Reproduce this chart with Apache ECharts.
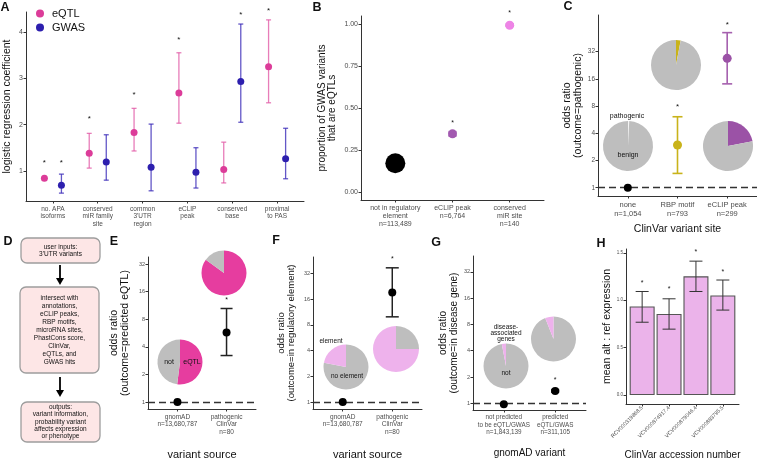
<!DOCTYPE html>
<html><head><meta charset="utf-8">
<script src="https://cdn.jsdelivr.net/npm/echarts@6/dist/echarts.min.js"></script>
<style>html,body{margin:0;padding:0;background:#fff}#c{width:757px;height:461px}</style>
</head><body><div id="c"></div>
<script>
// ---------- DATA ----------
// Panel A
const A_cats = ['no. APA\nisoforms', 'conserved\nmiR family\nsite', 'common\n3\'UTR\nregion', 'eCLIP\npeak', 'conserved\nbase', 'proximal\nto PAS'];
const A_yticks = [1, 2, 3, 4];
const A_eqtl = [0.84, 1.38, 1.83, 2.68, 1.03, 3.25];
const A_eqtl_lo = [0.80, 1.06, 1.43, 2.03, 0.74, 2.47];
const A_eqtl_hi = [0.88, 1.81, 2.35, 3.55, 1.62, 4.26];
const A_gwas = [0.69, 1.19, 1.08, 0.97, 2.93, 1.26];
const A_gwas_lo = [0.52, 0.80, 0.57, 0.63, 2.05, 0.83];
const A_gwas_hi = [0.93, 1.78, 2.01, 1.50, 4.17, 1.92];
const A_eqtl_star = [1.22, 2.16, 2.68, 3.88, null, 4.50];
const A_gwas_star = [1.22, null, null, null, 4.42, null];
// Panel B
const B_cats = ['not in regulatory\nelement\nn=113,489', 'eCLIP peak\nn=6,764', 'conserved\nmiR site\nn=140'];
const B_yticks = [0, 0.25, 0.5, 0.75, 1.0];
const B_vals = [0.173, 0.348, 0.995];
const B_lo = [null, 0.336, 0.990];
const B_hi = [null, 0.360, 1.000];
const B_star = [null, 0.42, 1.076];
// Panel C
const C_cats = ['none\nn=1,054', 'RBP motif\nn=793', 'eCLIP peak\nn=299'];
const C_yticks = [1, 2, 4, 8, 16, 32];
const C_vals = [1, 2.97, 27];
const C_lo = [null, 1.44, 14.1];
const C_hi = [null, 6.1, 52];
const C_star = [null, 8.2, 66];
const C_pie_none = [0.8, 99.2];   // pathogenic, benign
const C_pie_rbp = [3, 97];
const C_pie_eclip = [22, 78];
// Panel D (flowchart text)
const D_box1 = 'user inputs:\n3\'UTR variants';
const D_box2 = 'intersect with\nannotations,\neCLIP peaks,\nRBP motifs,\nmicroRNA sites,\nPhastCons score,\nClinVar,\neQTLs, and\nGWAS hits';
const D_box3 = 'outputs:\nvariant information,\nprobability variant\naffects expression\nor phenotype';
// Panel E
const E_cats = ['gnomAD\nn=13,680,787', 'pathogenic\nClinVar\nn=80'];
const E_yticks = [1, 2, 4, 8, 16, 32];
const E_vals = [1, 5.75];
const E_lo = [null, 3.22];
const E_hi = [null, 10.5];
const E_star = [null, 13.4];
const E_pie1 = [52, 48];  // eQTL, not
const E_pie2 = [85, 15];
// Panel F
const F_cats = ['gnomAD\nn=13,680,787', 'pathogenic\nClinVar\nn=80'];
const F_yticks = [1, 2, 4, 8, 16, 32];
const F_vals = [1, 19.1];
const F_lo = [null, 9.9];
const F_hi = [null, 37];
const F_star = [null, 48.6];
const F_pie1 = [78, 22];  // no element, element
const F_pie2 = [25, 75];
// Panel G
const G_cats = ['not predicted\nto be eQTL/GWAS\nn=1,843,139', 'predicted\neQTL/GWAS\nn=311,105'];
const G_yticks = [1, 2, 4, 8, 16, 32];
const G_vals = [0.98, 1.39];
const G_lo = [null, 1.36];
const G_hi = [null, 1.42];
const G_star = [null, 1.93];
const G_pie1 = [97, 3];   // not, disease-associated
const G_pie2 = [94, 6];
// Panel H
const H_cats = ['RCV000319868.5', 'VCV000874917.4', 'VCV000879046.4', 'VCV000883795.5'];
const H_yticks = [0, 0.5, 1.0, 1.5];
const H_vals = [0.935, 0.855, 1.252, 1.05];
const H_lo = [0.768, 0.695, 1.092, 0.896];
const H_hi = [1.092, 1.015, 1.412, 1.213];
const H_star = [1.20, 1.134, 1.527, 1.318];

// ---------- HELPERS ----------
const FONT = '"Liberation Sans", Arial, Helvetica, sans-serif';
const AX = '#333';
const TL = '#4d4d4d';

function xCat(gi, cats, o) {
  const idx = cats.map((_, i) => i + 1);
  return Object.assign({
    gridIndex: gi, type: 'value', min: 0.4, max: cats.length + 0.6,
    axisLine: { show: true, onZero: false, lineStyle: { color: AX, width: 1 } },
    axisTick: { show: true, customValues: idx, length: 2.5, lineStyle: { color: AX } },
    axisLabel: { customValues: idx, formatter: v => cats[Math.round(v) - 1], color: TL, fontSize: o.fs || 6.5, lineHeight: o.lh || 7.5, margin: o.margin || 4, fontFamily: FONT, rotate: o.rotate || 0 },
    splitLine: { show: false },
    name: o.name || '', nameLocation: 'middle', nameGap: o.gap || 20,
    nameTextStyle: { fontSize: o.nfs || 10, color: '#111', fontFamily: FONT }
  }, o.extra || {});
}
function yAx(gi, ticks, o) {
  return {
    gridIndex: gi, type: o.log ? 'log' : 'value', logBase: 2, min: o.min, max: o.max,
    axisLine: { show: true, onZero: false, lineStyle: { color: AX, width: 1 } },
    axisTick: { show: true, customValues: ticks, length: 2.5, lineStyle: { color: AX } },
    axisLabel: { customValues: ticks, formatter: o.fmt || (v => String(v)), color: TL, fontSize: o.fs || 6, margin: 3, fontFamily: FONT },
    splitLine: { show: false },
    name: o.name, nameLocation: 'middle', nameGap: o.gap, nameRotate: 90,
    nameTextStyle: { fontSize: o.nfs || 10, lineHeight: o.nlh || 11, color: '#111', fontFamily: FONT }
  };
}
function errBar(ai, xs, lo, hi, color, cap, lw) {
  const data = [];
  xs.forEach((x, i) => { if (lo[i] != null) data.push([x, lo[i], hi[i]]); });
  return {
    type: 'custom', xAxisIndex: ai, yAxisIndex: ai, data, silent: true, z: 3,
    encode: { x: 0, y: [1, 2] },
    renderItem: (p, api) => {
      const a = api.coord([api.value(0), api.value(1)]);
      const b = api.coord([api.value(0), api.value(2)]);
      const st = { stroke: color, lineWidth: lw };
      return { type: 'group', children: [
        { type: 'line', shape: { x1: a[0], y1: a[1], x2: b[0], y2: b[1] }, style: st },
        { type: 'line', shape: { x1: a[0] - cap / 2, y1: a[1], x2: a[0] + cap / 2, y2: a[1] }, style: st },
        { type: 'line', shape: { x1: b[0] - cap / 2, y1: b[1], x2: b[0] + cap / 2, y2: b[1] }, style: st }
      ]};
    }
  };
}
function stars(ai, xs, ys, fs) {
  const data = [];
  xs.forEach((x, i) => { if (ys[i] != null) data.push([x, ys[i]]); });
  return {
    type: 'custom', xAxisIndex: ai, yAxisIndex: ai, data, silent: true, z: 4, clip: false,
    encode: { x: 0, y: 1 },
    renderItem: (p, api) => {
      const c = api.coord([api.value(0), api.value(1)]);
      return { type: 'text', x: c[0], y: c[1] + fs * 0.25, style: { text: '*', fill: '#111', font: fs + 'px ' + FONT, align: 'center', verticalAlign: 'middle' } };
    }
  };
}
function pts(ai, xs, ys, color, size, name, extra) {
  return Object.assign({
    type: 'scatter', name: name, xAxisIndex: ai, yAxisIndex: ai, z: 5,
    data: xs.map((x, i) => [x, ys[i]]), symbolSize: size,
    itemStyle: { color: color, opacity: 1 }, silent: true
  }, extra || {});
}
const dashLine = { silent: true, symbol: 'none', label: { show: false }, data: [{ yAxis: 1 }], lineStyle: { type: [7, 4], color: '#333', width: 1.3 }, emphasis: { disabled: true } };
function pie(center, r, vals, colors) {
  return {
    type: 'pie', center: center, radius: r, startAngle: 90, clockwise: true, silent: true,
    label: { show: false }, labelLine: { show: false }, z: 2,
    itemStyle: { borderWidth: 0 },
    data: vals.map((v, i) => ({ value: v, itemStyle: { color: colors[i] } }))
  };
}
const idx = arr => arr.map((_, i) => i + 1);

const GRAY = '#bebebe';
const LPINK = '#eeb2ec';

// ---------- OPTION ----------
const grids = [
  { left: 26, top: 12, width: 278, height: 189 },   // A
  { left: 361, top: 16, width: 183, height: 184 },  // B
  { left: 598, top: 15, width: 159, height: 181 },  // C
  { left: 148, top: 257, width: 108, height: 154 }, // E
  { left: 313, top: 257, width: 109, height: 155 }, // F
  { left: 473, top: 256, width: 113, height: 154 }, // G
  { left: 626, top: 249, width: 113, height: 157 }  // H
];

const xAxes = [
  xCat(0, A_cats, { fs: 6.5, lh: 7.5 }),
  xCat(1, B_cats, { fs: 7, lh: 8 }),
  xCat(2, C_cats, { fs: 7.5, lh: 9, name: 'ClinVar variant site', gap: 28, nfs: 10.5 }),
  xCat(3, E_cats, { fs: 6.5, lh: 7.5, name: 'variant source', gap: 40, nfs: 11 }),
  xCat(4, F_cats, { fs: 6.5, lh: 7.5, name: 'variant source', gap: 40, nfs: 11 }),
  xCat(5, G_cats, { fs: 6.3, lh: 7.5, name: 'gnomAD variant', gap: 38, nfs: 10 }),
  xCat(6, H_cats, { fs: 5.4, lh: 6, rotate: 45, margin: 3, name: 'ClinVar accession number', gap: 46, nfs: 10 })
];
const yAxes = [
  yAx(0, A_yticks, { min: 0.35, max: 4.43, fs: 7, name: 'logistic regression coefficient', gap: 13, nfs: 10.5 }),
  yAx(1, B_yticks, { min: -0.046, max: 1.05, fs: 7, fmt: v => v.toFixed(2), name: 'proportion of GWAS variants\nthat are eQTLs', gap: 24, nfs: 10, nlh: 10 }),
  yAx(2, C_yticks, { log: true, min: 0.81, max: 81.5, fs: 6.5, name: 'odds ratio\n(outcome=pathogenic)', gap: 14, nfs: 10.5, nlh: 11 }),
  yAx(3, E_yticks, { log: true, min: 0.84, max: 38.3, fs: 5.5, name: 'odds ratio\n(outcome=predicted eQTL)', gap: 17, nfs: 10.5, nlh: 11 }),
  yAx(4, F_yticks, { log: true, min: 0.83, max: 49.5, fs: 5.5, name: 'odds ratio\n(outcome=in regulatory element)', gap: 17, nfs: 9.5, nlh: 10 }),
  yAx(5, G_yticks, { log: true, min: 0.84, max: 48.5, fs: 5.5, name: 'odds ratio\n(outcome=in disease gene)', gap: 11, nfs: 10, nlh: 11 }),
  yAx(6, H_yticks, { min: -0.094, max: 1.54, fs: 4.5, fmt: v => v.toFixed(1), name: 'mean alt : ref expression', gap: 13, nfs: 10.5 })
];

const Ax = idx(A_cats);
const AxE = Ax.map(x => x - 0.19);
const AxG = Ax.map(x => x + 0.19);
const Bx = idx(B_cats), Cx = idx(C_cats), Ex = idx(E_cats), Fx = idx(F_cats), Gx = idx(G_cats), Hx = idx(H_cats);

const series = [
  // A
  errBar(0, AxE, A_eqtl_lo, A_eqtl_hi, 'rgba(226,92,168,0.8)', 5, 1.3),
  errBar(0, AxG, A_gwas_lo, A_gwas_hi, 'rgba(60,45,185,0.8)', 5, 1.3),
  pts(0, AxE, A_eqtl, '#dc3c99', 7, 'eQTL'),
  pts(0, AxG, A_gwas, '#2d1fae', 7, 'GWAS'),
  stars(0, AxE, A_eqtl_star, 8),
  stars(0, AxG, A_gwas_star, 8),
  // B
  errBar(1, Bx, B_lo, B_hi, '#a259b0', 8, 2),
  pts(1, [Bx[0]], [B_vals[0]], '#000', 20),
  pts(1, [Bx[1]], [B_vals[1]], '#a259b0', 9),
  pts(1, [Bx[2]], [B_vals[2]], '#ee84e6', 9),
  stars(1, Bx, B_star, 7),
  // C
  pie([628, 146], 25, C_pie_none, ['#f4f4f4', GRAY]),
  pie([676, 65], 25, C_pie_rbp, ['#c9b31a', GRAY]),
  pie([728, 146], 25, C_pie_eclip, ['#9b52a6', GRAY]),
  errBar(2, [Cx[1]], [C_lo[1]], [C_hi[1]], '#c9b31a', 10, 1.6),
  errBar(2, [Cx[2]], [C_lo[2]], [C_hi[2]], '#a560ae', 10, 1.6),
  pts(2, [Cx[0]], [C_vals[0]], '#000', 8, null, { markLine: dashLine }),
  pts(2, [Cx[1]], [C_vals[1]], '#c9b31a', 9),
  pts(2, [Cx[2]], [C_vals[2]], '#9b52a6', 9),
  stars(2, Cx, C_star, 8),
  // E
  pie([180, 362], 22.5, E_pie1, ['#e63d9f', GRAY]),
  pie([224, 273], 22.5, E_pie2, ['#e63d9f', GRAY]),
  errBar(3, Ex, E_lo, E_hi, '#222', 12, 1.5),
  pts(3, Ex, E_vals, '#000', 8, null, { markLine: dashLine }),
  stars(3, Ex, E_star, 7),
  // F
  pie([346, 367], 22.5, F_pie1, [GRAY, LPINK]),
  pie([396, 349], 23, F_pie2, [GRAY, LPINK]),
  errBar(4, Fx, F_lo, F_hi, '#222', 13, 1.5),
  pts(4, Fx, F_vals, '#000', 8, null, { markLine: dashLine }),
  stars(4, Fx, F_star, 7),
  // G
  pie([506, 366], 22.5, G_pie1, [GRAY, LPINK]),
  pie([553.5, 339], 22.5, G_pie2, [GRAY, LPINK]),
  errBar(5, Gx, G_lo, G_hi, '#111', 8, 2.5),
  pts(5, Gx, G_vals, '#000', 8, null, { markLine: dashLine }),
  stars(5, Gx, G_star, 7),
  // H
  {
    type: 'bar', xAxisIndex: 6, yAxisIndex: 6, barWidth: 25, silent: true, z: 2,
    data: Hx.map((x, i) => [x, H_vals[i]]),
    itemStyle: { color: '#ebb3ea', borderColor: '#555', borderWidth: 1.1 }
  },
  errBar(6, Hx, H_lo, H_hi, '#333', 13, 1),
  stars(6, Hx, H_star, 7)
];

function box(x, y, w, h, txt, lh) {
  return [
    { type: 'rect', shape: { x: x, y: y, width: w, height: h, r: 6 }, style: { fill: '#fde6e6', stroke: '#9d9d9d', lineWidth: 1.3 } },
    { type: 'text', x: x + w / 2, y: y + h / 2, style: { text: txt, fill: '#111', font: '6.5px ' + FONT, align: 'center', verticalAlign: 'middle', lineHeight: lh } }
  ];
}
function arrow(x, y1, y2) {
  return [
    { type: 'line', shape: { x1: x, y1: y1, x2: x, y2: y2 - 6 }, style: { stroke: '#000', lineWidth: 1.8 } },
    { type: 'polygon', shape: { points: [[x - 4, y2 - 7], [x + 4, y2 - 7], [x, y2]] }, style: { fill: '#000' } }
  ];
}
function txt(x, y, s, fs, extra) {
  return Object.assign({ type: 'text', x: x, y: y, z: 10, style: { text: s, fill: '#111', font: fs, align: 'center', verticalAlign: 'middle' } }, extra || {});
}
const letter = (x, y, s) => txt(x, y, s, 'bold 12.5px ' + FONT);

const graphic = [
  letter(5, 8, 'A'), letter(317, 8, 'B'), letter(568, 7, 'C'), letter(8, 242, 'D'),
  letter(114, 242, 'E'), letter(276, 241, 'F'), letter(436, 243, 'G'), letter(601, 244, 'H'),
  ...box(21, 238, 79, 25, D_box1, 7.5),
  ...arrow(60, 265, 285),
  ...box(20, 287, 79, 86, D_box2, 8),
  ...arrow(60, 377, 397),
  ...box(21, 402, 79, 40, D_box3, 7.3),
  txt(627, 116, 'pathogenic', '7px ' + FONT),
  txt(628, 155, 'benign', '7px ' + FONT),
  txt(169, 362, 'not', '7px ' + FONT),
  txt(192, 362, 'eQTL', '7px ' + FONT),
  txt(331, 341, 'element', '6.5px ' + FONT),
  txt(347, 376, 'no element', '6.5px ' + FONT),
  { type: 'text', x: 506, y: 333, z: 10, style: { text: 'disease-\nassociated\ngenes', fill: '#111', font: '6.5px ' + FONT, align: 'center', verticalAlign: 'middle', lineHeight: 6 } },
  txt(506, 373, 'not', '6.5px ' + FONT)
];

const chart = echarts.init(document.getElementById('c'), null, { renderer: 'canvas' });
chart.setOption({
  animation: false,
  backgroundColor: '#fff',
  textStyle: { fontFamily: FONT },
  grid: grids,
  xAxis: xAxes,
  yAxis: yAxes,
  legend: {
    data: ['eQTL', 'GWAS'], left: 36, top: 8, orient: 'vertical', padding: 0,
    itemWidth: 8, itemHeight: 8, itemGap: 3, icon: 'circle', selectedMode: false,
    textStyle: { fontSize: 11, color: '#111', fontFamily: FONT, padding: [0, 0, 0, 3] }
  },
  series: series,
  graphic: graphic
});
</script></body></html>
